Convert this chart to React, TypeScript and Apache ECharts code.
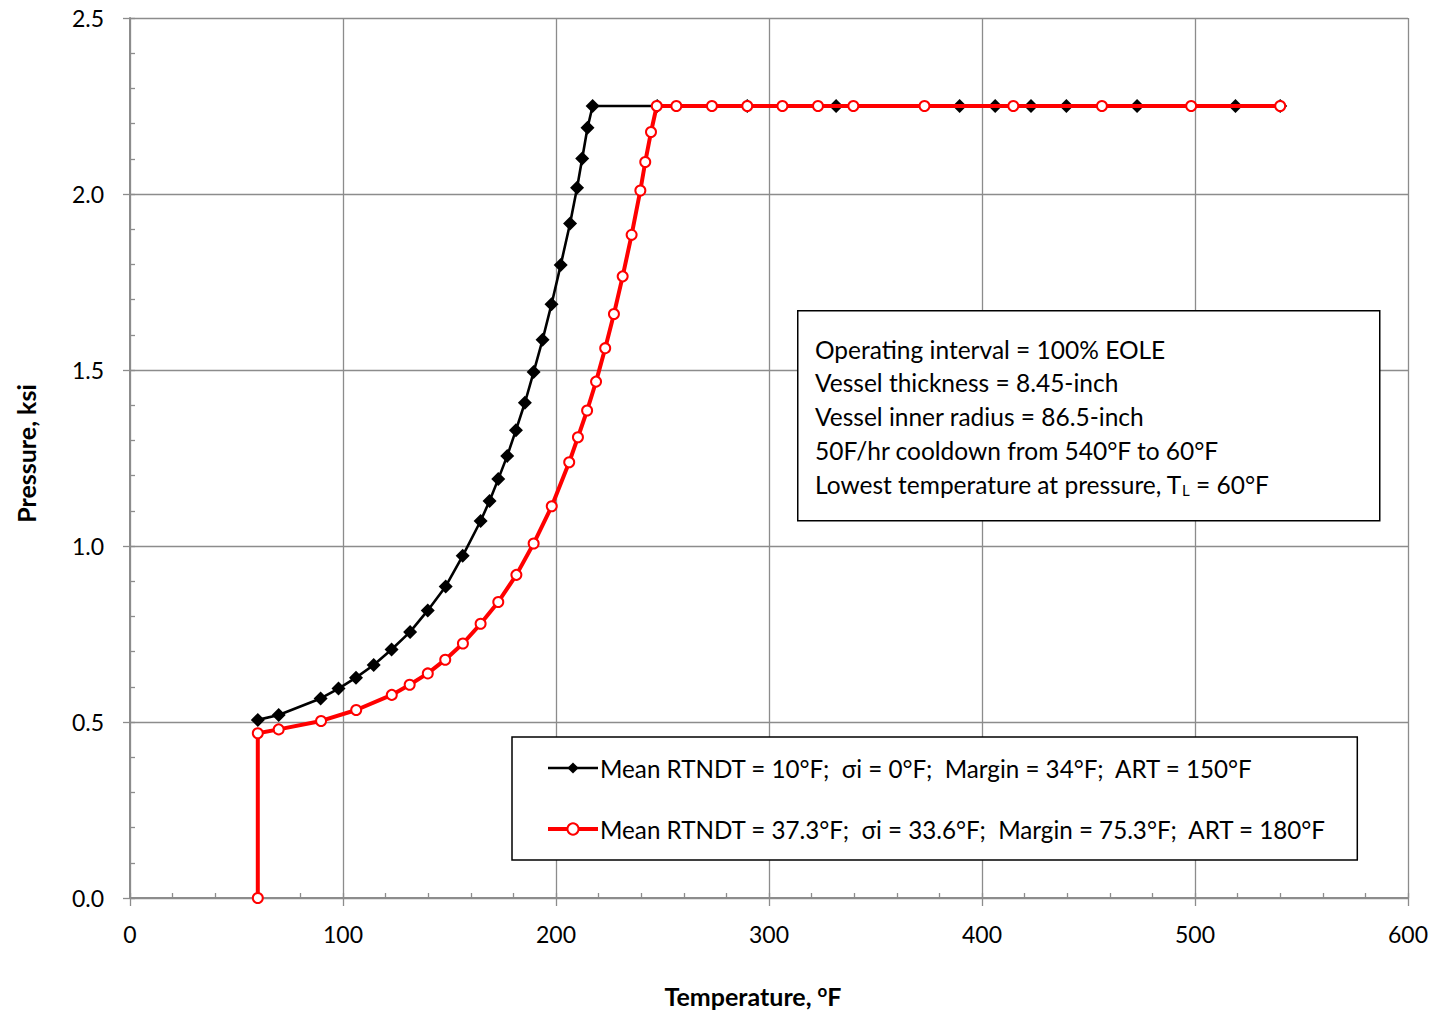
import React, { useEffect, useRef } from "react";
import * as echarts from "echarts";

const blackT = [60, 69.8, 89.5, 97.9, 106.1, 114.4, 122.8, 131.5, 139.8, 148.2, 156.2, 164.6, 168.8, 172.9, 177.1, 181.2, 185.4, 189.5, 193.7, 197.9, 202.2, 206.6, 209.9, 212.3, 214.8, 217.2, 247.5, 289.8, 331.5, 389.5, 406.2, 423, 439.6, 472.8, 519, 540];
const blackP = [0.506, 0.52, 0.567, 0.595, 0.626, 0.662, 0.706, 0.756, 0.817, 0.885, 0.972, 1.071, 1.128, 1.19, 1.256, 1.329, 1.407, 1.494, 1.586, 1.687, 1.798, 1.916, 2.018, 2.101, 2.188, 2.25, 2.25, 2.25, 2.25, 2.25, 2.25, 2.25, 2.25, 2.25, 2.25, 2.25];

const redT = [60, 60, 69.8, 89.7, 106.2, 122.9, 131.3, 139.8, 148, 156.3, 164.6, 172.9, 181.4, 189.5, 198, 206.2, 210.3, 214.6, 218.8, 223.1, 227.2, 231.3, 235.5, 239.6, 241.9, 244.6, 247.3, 256.5, 273.2, 289.8, 306.3, 323, 339.6, 373, 414.7, 456.3, 498.2, 540];
const redP = [0, 0.468, 0.479, 0.503, 0.534, 0.577, 0.606, 0.638, 0.677, 0.723, 0.779, 0.841, 0.918, 1.007, 1.113, 1.238, 1.309, 1.385, 1.467, 1.562, 1.659, 1.766, 1.884, 2.01, 2.091, 2.176, 2.25, 2.25, 2.25, 2.25, 2.25, 2.25, 2.25, 2.25, 2.25, 2.25, 2.25, 2.25];

const seriesNames = [
  "Mean RTNDT = 10°F;  σi = 0°F;  Margin = 34°F;  ART = 150°F",
  "Mean RTNDT = 37.3°F;  σi = 33.6°F;  Margin = 75.3°F;  ART = 180°F",
];

const noteLines = [
  "Operating interval = 100% EOLE",
  "Vessel thickness = 8.45-inch",
  "Vessel inner radius = 86.5-inch",
  "50F/hr cooldown from 540°F to 60°F",
  "Lowest temperature at pressure, T{sub|L} = 60°F",
];

const xTitle = "Temperature, {sup|o}F";
const yTitle = "Pressure, ksi";

const FONT = "Lato";
const GRID = "#8c8c8c";
const TXT = 24.5;
const LEG_TXT = 24.2;

export default function App() {
  const ref = useRef<HTMLDivElement>(null);
  useEffect(() => {
    if (!ref.current) return;
    const chart = echarts.init(ref.current, null, { renderer: "svg" });
    const zip = (a: number[], b: number[]) => a.map((v, i) => [v, b[i]]);
    const option: any = {
      animation: false,
      backgroundColor: "#ffffff",
      textStyle: { fontFamily: FONT },
      grid: { left: 130, right: 25, top: 18, bottom: 112, containLabel: false },
      xAxis: [
        {
          type: "value",
          min: 0,
          max: 600,
          interval: 100,
          position: "bottom",
          axisLine: { show: true, onZero: false, lineStyle: { color: GRID, width: 2 } },
          axisTick: { show: true, inside: false, length: 8, lineStyle: { color: GRID, width: 1.3 } },
          splitLine: { show: true, lineStyle: { color: GRID, width: 1.3 } },
          axisLabel: { color: "#000", fontSize: 23, fontFamily: FONT, margin: 24 },
          name: xTitle,
          nameLocation: "middle",
          nameGap: 84,
          nameTextStyle: {
            color: "#000",
            fontSize: 25,
            fontWeight: "bold",
            fontFamily: FONT,
            padding: [0, 32, 0, 0],
            rich: {
              sup: { fontSize: 17, fontWeight: "bold", verticalAlign: "top", padding: [0, 0, 10, 0], fontFamily: FONT },
            },
          },
        },
        {
          type: "value",
          min: 0,
          max: 600,
          interval: 20,
          position: "bottom",
          axisLine: { show: false, onZero: false },
          axisTick: { show: true, inside: true, length: 5, lineStyle: { color: GRID, width: 1.3 } },
          splitLine: { show: false },
          axisLabel: { show: false },
        },
      ],
      yAxis: [
        {
          type: "value",
          min: 0,
          max: 2.5,
          interval: 0.5,
          position: "left",
          axisLine: { show: true, onZero: false, lineStyle: { color: GRID, width: 2 } },
          axisTick: { show: true, inside: false, length: 7, lineStyle: { color: GRID, width: 1.3 } },
          splitLine: { show: true, lineStyle: { color: GRID, width: 1.3 } },
          axisLabel: {
            color: "#000",
            fontSize: 23,
            fontFamily: FONT,
            margin: 26,
            formatter: (v: number) => v.toFixed(1),
          },
          name: yTitle,
          nameLocation: "middle",
          nameGap: 92,
          nameTextStyle: { color: "#000", fontSize: 25, fontWeight: "bold", fontFamily: FONT, padding: [0, 0, 0, 9] },
        },
        {
          type: "value",
          min: 0,
          max: 2.5,
          interval: 0.1,
          position: "left",
          axisLine: { show: false, onZero: false },
          axisTick: { show: true, inside: true, length: 5, lineStyle: { color: GRID, width: 1.3 } },
          splitLine: { show: false },
          axisLabel: { show: false },
        },
      ],
      legend: {
        show: true,
        orient: "vertical",
        left: 512,
        top: 737,
        padding: [19, 30, 19, 34],
        itemGap: 37,
        itemWidth: 50,
        itemHeight: 14,
        backgroundColor: "#fff",
        borderColor: "#000",
        borderWidth: 1.5,
        borderRadius: 0,
        z: 20,
        textStyle: { color: "#000", fontSize: LEG_TXT, fontFamily: FONT, padding: [0, 0, 0, -3] },
        data: [
          { name: seriesNames[0], lineStyle: { width: 2.6 } },
          { name: seriesNames[1], lineStyle: { width: 4 } },
        ],
      },
      series: [
        {
          name: seriesNames[0],
          type: "line",
          xAxisIndex: 0,
          yAxisIndex: 0,
          data: zip(blackT, blackP),
          symbol: "diamond",
          symbolSize: 14,
          showAllSymbol: true,
          lineStyle: { color: "#000", width: 2.6 },
          itemStyle: { color: "#000", borderColor: "#000", borderWidth: 0 },
          z: 3,
        },
        {
          name: seriesNames[1],
          type: "line",
          xAxisIndex: 0,
          yAxisIndex: 0,
          data: zip(redT, redP),
          symbol: "circle",
          symbolSize: 10,
          showAllSymbol: true,
          lineStyle: { color: "#ff0000", width: 4 },
          itemStyle: { color: "#ffffff", borderColor: "#ff0000", borderWidth: 2 },
          z: 4,
        },
      ],
      graphic: [
        {
          type: "rect",
          left: 797,
          top: 310,
          z: 100,
          shape: { x: 0, y: 0, width: 582, height: 210 },
          style: { fill: "#fff", stroke: "#000", lineWidth: 1.5 },
        },
        ...noteLines.map((t, i) => ({
          type: "text",
          x: 815,
          y: 349 + i * 33.8,
          z: 101,
          style: {
            text: t,
            fill: "#000",
            fontSize: TXT,
            fontFamily: FONT,
            verticalAlign: "middle",
            align: "left",
            rich: {
              sub: { fontSize: 15, fontFamily: FONT, verticalAlign: "bottom", padding: [12, 0, 0, 0] },
            },
          },
        })),
      ],
    };
    chart.setOption(option);
    return () => chart.dispose();
  }, []);
  return (
    <div
      ref={ref}
      style={{ position: "absolute", left: 0, top: 0, width: 1433, height: 1013, background: "#fff" }}
    />
  );
}
